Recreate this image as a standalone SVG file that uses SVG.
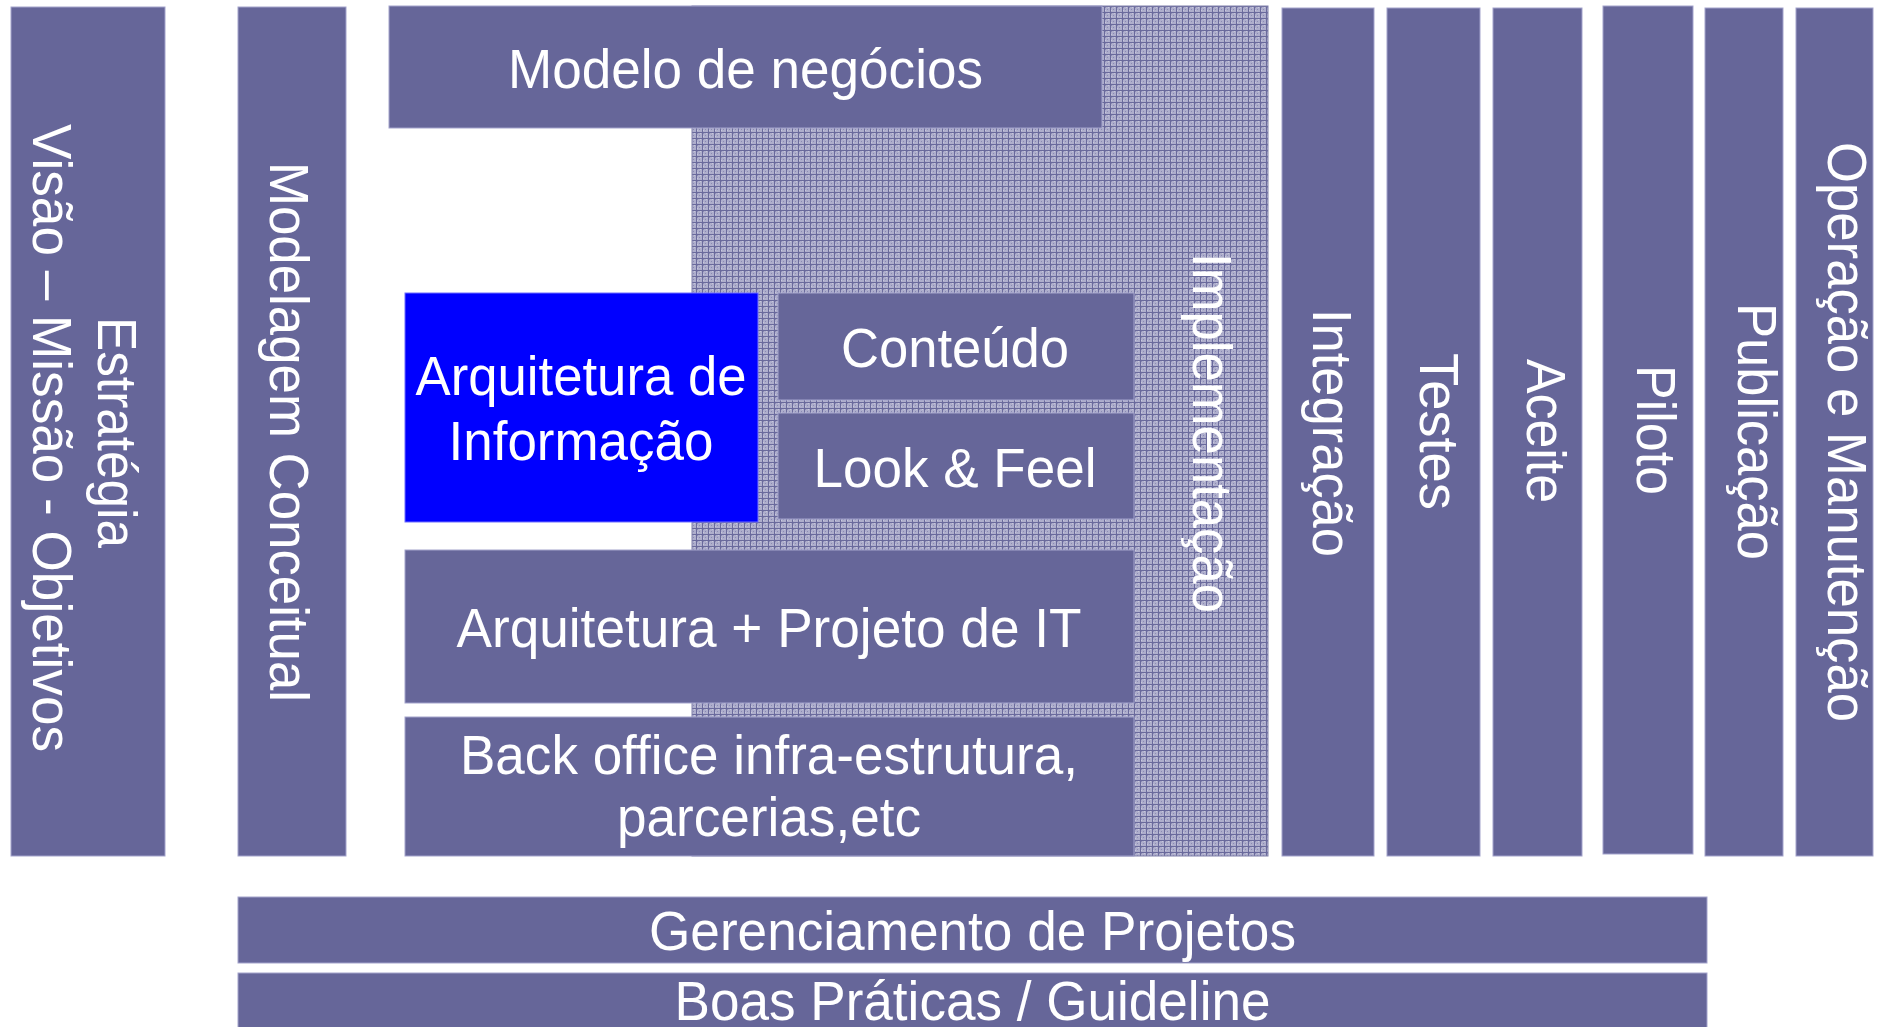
<svg xmlns="http://www.w3.org/2000/svg" width="1878" height="1027" viewBox="0 0 1878 1027">
<defs>
<pattern id="grid" width="6" height="6" patternUnits="userSpaceOnUse">
<rect width="6" height="6" fill="#aeaecc"/>
<rect x="1" y="1" width="1" height="1" fill="#8a8ab4"/>
<rect x="3" y="3" width="1" height="1" fill="#8a8ab4"/>
<rect x="1" y="4" width="1" height="1" fill="#c8c8dc"/>
<rect x="4" y="1" width="1" height="1" fill="#c8c8dc"/>
<rect x="0" y="0" width="6" height="1" fill="#6a6a9c"/>
<rect x="0" y="0" width="1" height="6" fill="#6a6a9c"/>
</pattern>
<style>
.box{fill:#666699;stroke:#a3a3cc;stroke-width:1}
.blue{fill:#0000ff;stroke:#6f6fff;stroke-width:1}
.hatch{fill:url(#grid);stroke:#8080aa;stroke-width:1}
.t{font-family:"Liberation Sans",Arial,sans-serif;font-size:55px;fill:#ffffff;text-anchor:middle}
</style>
</defs>
<rect width="1878" height="1027" fill="#ffffff"/>

<g id="implementacao">
<rect class="hatch" x="692" y="6" width="576" height="850"/>
<text class="t" transform="translate(1193,433) rotate(90)" textLength="360" lengthAdjust="spacingAndGlyphs">Implementação</text>
</g>

<g id="estrategia">
<rect class="box" x="11" y="7" width="154" height="849"/>
<text class="t" transform="translate(98,432.5) rotate(90)" textLength="231" lengthAdjust="spacingAndGlyphs">Estratégia</text>
<text class="t" transform="translate(33,438) rotate(90)" textLength="628" lengthAdjust="spacingAndGlyphs">Visão – Missão - Objetivos</text>
</g>

<g id="modelagem">
<rect class="box" x="238" y="7" width="108" height="849"/>
<text class="t" transform="translate(270,432) rotate(90)" textLength="540" lengthAdjust="spacingAndGlyphs">Modelagem Conceitual</text>
</g>

<g id="modelo-negocios">
<rect class="box" x="389" y="6" width="713" height="122"/>
<text class="t" x="745.5" y="88" textLength="475" lengthAdjust="spacingAndGlyphs">Modelo de negócios</text>
</g>

<g id="arquitetura-informacao">
<rect class="blue" x="405" y="293" width="353" height="229"/>
<text class="t" x="581" y="395" textLength="331" lengthAdjust="spacingAndGlyphs">Arquitetura de</text>
<text class="t" x="581" y="460" textLength="265" lengthAdjust="spacingAndGlyphs">Informação</text>
</g>

<g id="conteudo">
<rect class="box" x="778" y="293" width="356" height="107"/>
<text class="t" x="955" y="367" textLength="228" lengthAdjust="spacingAndGlyphs">Conteúdo</text>
</g>

<g id="look-feel">
<rect class="box" x="778" y="413" width="356" height="106"/>
<text class="t" x="955" y="487" textLength="283" lengthAdjust="spacingAndGlyphs">Look &amp; Feel</text>
</g>

<g id="arquitetura-projeto">
<rect class="box" x="405" y="550" width="729" height="153"/>
<text class="t" x="769" y="647" textLength="625" lengthAdjust="spacingAndGlyphs">Arquitetura + Projeto de IT</text>
</g>

<g id="back-office">
<rect class="box" x="405" y="717" width="729" height="139"/>
<text class="t" x="769" y="774" textLength="618" lengthAdjust="spacingAndGlyphs">Back office infra-estrutura,</text>
<text class="t" x="769" y="836" textLength="304" lengthAdjust="spacingAndGlyphs">parcerias,etc</text>
</g>

<g id="integracao">
<rect class="box" x="1282" y="8" width="92" height="848"/>
<text class="t" transform="translate(1313,433) rotate(90)" textLength="248" lengthAdjust="spacingAndGlyphs">Integração</text>
</g>

<g id="testes">
<rect class="box" x="1387" y="8" width="93" height="848"/>
<text class="t" transform="translate(1420,431.5) rotate(90)" textLength="157" lengthAdjust="spacingAndGlyphs">Testes</text>
</g>

<g id="aceite">
<rect class="box" x="1493" y="8" width="89" height="848"/>
<text class="t" transform="translate(1527,431) rotate(90)" textLength="144" lengthAdjust="spacingAndGlyphs">Aceite</text>
</g>

<g id="piloto">
<rect class="box" x="1603" y="6" width="90" height="848"/>
<text class="t" transform="translate(1637,430) rotate(90)" textLength="130" lengthAdjust="spacingAndGlyphs">Piloto</text>
</g>

<g id="publicacao">
<rect class="box" x="1705" y="8" width="78" height="848"/>
<text class="t" transform="translate(1738,431.5) rotate(90)" textLength="257" lengthAdjust="spacingAndGlyphs">Publicação</text>
</g>

<g id="operacao">
<rect class="box" x="1796" y="8" width="77" height="848"/>
<text class="t" transform="translate(1828,432) rotate(90)" textLength="580" lengthAdjust="spacingAndGlyphs">Operação e Manutenção</text>
</g>

<g id="gerenciamento">
<rect class="box" x="238" y="897" width="1469" height="66"/>
<text class="t" x="972.5" y="950" textLength="647" lengthAdjust="spacingAndGlyphs">Gerenciamento de Projetos</text>
</g>

<g id="boas-praticas">
<rect class="box" x="238" y="973" width="1469" height="60"/>
<text class="t" x="972.5" y="1020" textLength="596" lengthAdjust="spacingAndGlyphs">Boas Práticas / Guideline</text>
</g>

<g id="connectors"></g>
</svg>
